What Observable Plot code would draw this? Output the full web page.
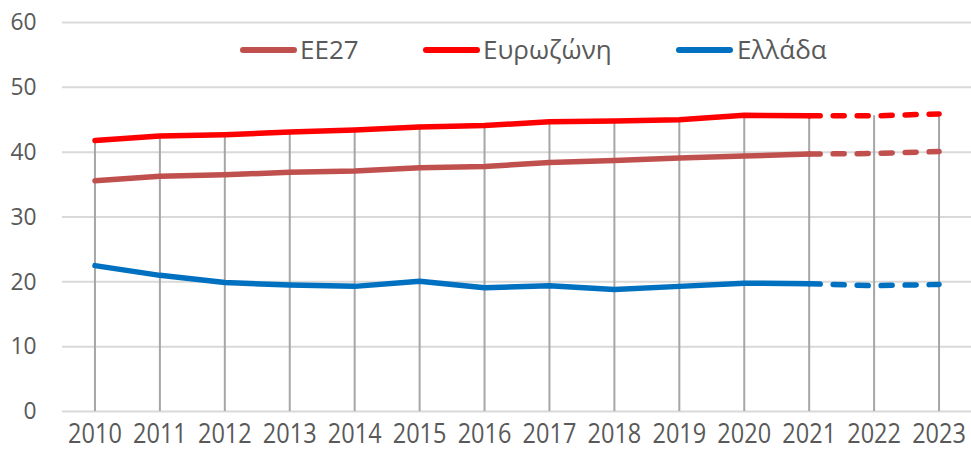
<!DOCTYPE html>
<html><head><meta charset="utf-8">
<script src="https://cdn.jsdelivr.net/npm/d3@7"></script>
<script src="https://cdn.jsdelivr.net/npm/@observablehq/plot@0.6"></script>
<style>
body{margin:0;background:#fff}
#wrap{position:relative;width:971px;height:454px;overflow:hidden}
.sw{position:absolute;top:47px;width:57px;height:6px;border-radius:3px}
.lt{position:absolute;top:31px;line-height:36px;font-size:26px;font-family:"Open Sans",sans-serif;color:#595959;white-space:nowrap}
</style></head><body><div id="wrap"></div>
<script>
const years=[2010,2011,2012,2013,2014,2015,2016,2017,2018,2019,2020,2021,2022,2023];
const ee27=[35.6,36.3,36.5,36.9,37.1,37.6,37.8,38.4,38.7,39.1,39.4,39.7,39.8,40.1];
const eurozone=[41.8,42.5,42.7,43.1,43.4,43.9,44.1,44.7,44.8,45.0,45.7,45.6,45.6,45.9];
const greece=[22.5,21.0,19.9,19.5,19.3,20.1,19.1,19.4,18.8,19.3,19.8,19.7,19.4,19.6];
const seriesNames=["ΕΕ27","Ευρωζώνη","Ελλάδα"];
const seriesColors=["#C0504D","#FF0000","#0070C0"];
const yTicks=[0,10,20,30,40,50,60];
const lastActual=2021;

const seriesValues=[ee27,eurozone,greece];
const solidRows=[],dashRows=[];
seriesNames.forEach((s,i)=>years.forEach((yr,j)=>{
  const r={series:s,year:yr,value:seriesValues[i][j]};
  if(yr<=lastActual) solidRows.push(r);
  if(yr>=lastActual) dashRows.push(r);
}));
const dropRows=years.map((yr,j)=>({year:yr,max:Math.max(ee27[j],eurozone[j],greece[j])}));

const chart=Plot.plot({
  width:971,height:454,
  marginLeft:62,marginRight:0,marginTop:22,marginBottom:43,
  style:{fontFamily:'"Open Sans",sans-serif',fontSize:"24px",color:"#595959",background:"#fff"},
  x:{type:"linear",domain:[2009.5,2023.5]},
  y:{domain:[0,60]},
  color:{domain:seriesNames,range:seriesColors},
  marks:[
    Plot.gridY(yTicks,{stroke:"#D9D9D9",strokeOpacity:1,strokeWidth:2}),
    Plot.ruleX(dropRows,{x:"year",y1:0,y2:"max",stroke:"#A6A6A6",strokeWidth:2}),
    Plot.line(solidRows,{x:"year",y:"value",z:"series",stroke:"series",strokeWidth:5.5,strokeLinecap:"round",strokeLinejoin:"round"}),
    Plot.line(dashRows,{x:"year",y:"value",z:"series",stroke:"series",strokeWidth:5.5,strokeLinecap:"round",strokeLinejoin:"round",strokeDasharray:"11,13"}),
    Plot.axisY(yTicks,{tickSize:0,tickPadding:26,label:null,fontSize:24}),
    Plot.axisX(years,{tickSize:0,tickPadding:12,tickFormat:d=>String(d),label:null,fontSize:28})
  ]
});
function squeeze(sel,s){
  chart.querySelectorAll(sel).forEach(t=>{
    const tr=t.getAttribute("transform");
    if(tr) t.setAttribute("transform",tr+` scale(${s},1)`);
    else{
      const x=+t.getAttribute("x")||0,y=+t.getAttribute("y")||0;
      t.setAttribute("x",0);t.setAttribute("y",0);
      t.setAttribute("transform",`translate(${x},${y}) scale(${s},1)`);
    }
  });
}
squeeze('g[aria-label="x-axis tick label"] text',0.84);
squeeze('g[aria-label="y-axis tick label"] text',0.95);
const wrap=document.getElementById("wrap");
wrap.appendChild(chart);
const swatchX=[240,423,676];
const textX=[300,483,737];
seriesNames.forEach((s,i)=>{
  const sw=document.createElement("div");
  sw.className="sw";sw.style.left=swatchX[i]+"px";sw.style.background=seriesColors[i];
  wrap.appendChild(sw);
  const t=document.createElement("div");
  t.className="lt";t.style.left=textX[i]+"px";t.textContent=s;
  wrap.appendChild(t);
});
</script></body></html>
